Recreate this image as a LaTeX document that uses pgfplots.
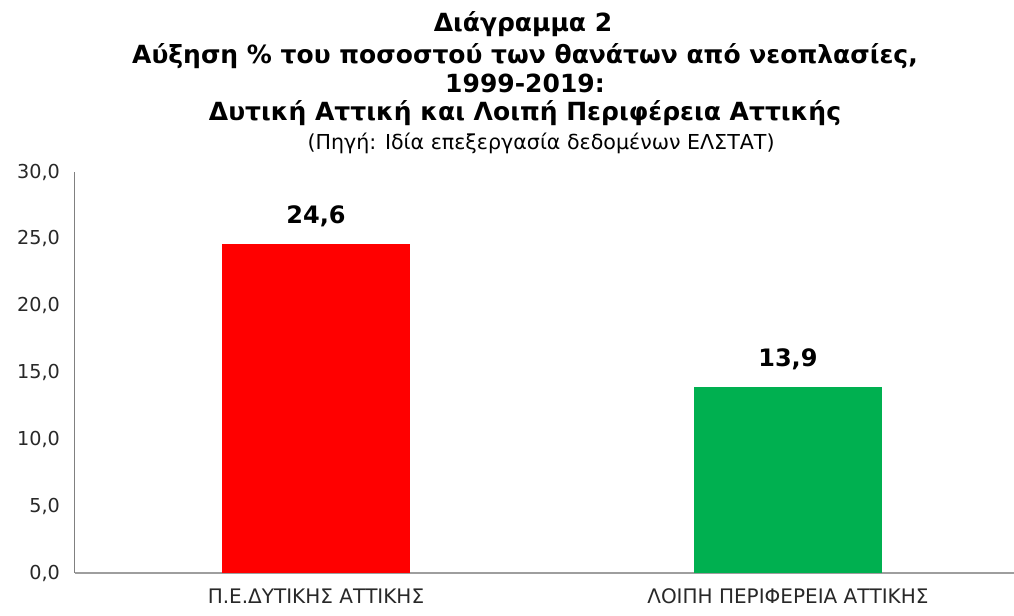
\documentclass[border=0pt]{standalone}
\usepackage{pgfplots}
\pgfplotsset{compat=1.18}
\usepackage{fontspec}
\setmainfont{DejaVu Sans}
\definecolor{barred}{RGB}{255,0,0}
\definecolor{bargreen}{RGB}{0,176,80}
\definecolor{txt}{RGB}{40,40,40}
\begin{document}
\begin{tikzpicture}[x=0.5pt,y=0.5pt]
\path[use as bounding box] (0,0) rectangle (1014,616);
\begin{axis}[at={(37.5pt,21.5pt)}, anchor=south west, scale only axis,
 width=469.5pt, height=200.5pt,
 xmin=-0.5106, xmax=1.479, ymin=0, ymax=30,
 axis x line*=bottom, axis y line*=left,
 axis line style={-},
 x axis line style={draw=black!38, line width=1pt},
 y axis line style={draw=black!50, line width=0.5pt},
 xtick={0,1},
 xticklabels={Π.Ε.ΔΥΤΙΚΗΣ ΑΤΤΙΚΗΣ, ΛΟΙΠΗ ΠΕΡΙΦΕΡΕΙΑ ΑΤΤΙΚΗΣ},
 ytick={0,5,...,30},
 major tick length=0pt,
 /pgf/number format/use comma,
 /pgf/number format/fixed,
 /pgf/number format/fixed zerofill,
 /pgf/number format/precision=1,
 /pgf/number format/assume math mode=true,
 yticklabel style={font=\fontsize{9.6}{11}\selectfont, text=txt, xshift=-4pt},
 xticklabel style={font=\fontsize{10}{12}\selectfont, text=txt, anchor=base, yshift=-15.5pt},
 ybar, bar width=94pt, bar shift=0pt,
 nodes near coords,
 nodes near coords style={font=\bfseries\fontsize{12}{14}\selectfont, text=black, yshift=5pt},
 clip=false]
\addplot[fill=barred, draw=none] coordinates {(0,24.6)};
\addplot[fill=bargreen, draw=none] coordinates {(1,13.9)};
\end{axis}
\node[anchor=base, font=\bfseries\fontsize{12.5}{14}\selectfont] at (523,584) {Διάγραμμα 2};
\node[anchor=base, font=\bfseries\fontsize{12.5}{14}\selectfont] at (525,552) {Αύξηση \% του ποσοστού των θανάτων από νεοπλασίες,};
\node[anchor=base, font=\bfseries\fontsize{12.5}{14}\selectfont] at (525,523) {1999-2019:};
\node[anchor=base, font=\bfseries\fontsize{12.5}{14}\selectfont] at (525,495) {Δυτική Αττική και Λοιπή Περιφέρεια Αττικής};
\node[anchor=base, font=\fontsize{10.3}{12}\selectfont] at (541,466) {(Πηγή: Ιδία επεξεργασία δεδομένων ΕΛΣΤΑΤ)};
\end{tikzpicture}
\end{document}
